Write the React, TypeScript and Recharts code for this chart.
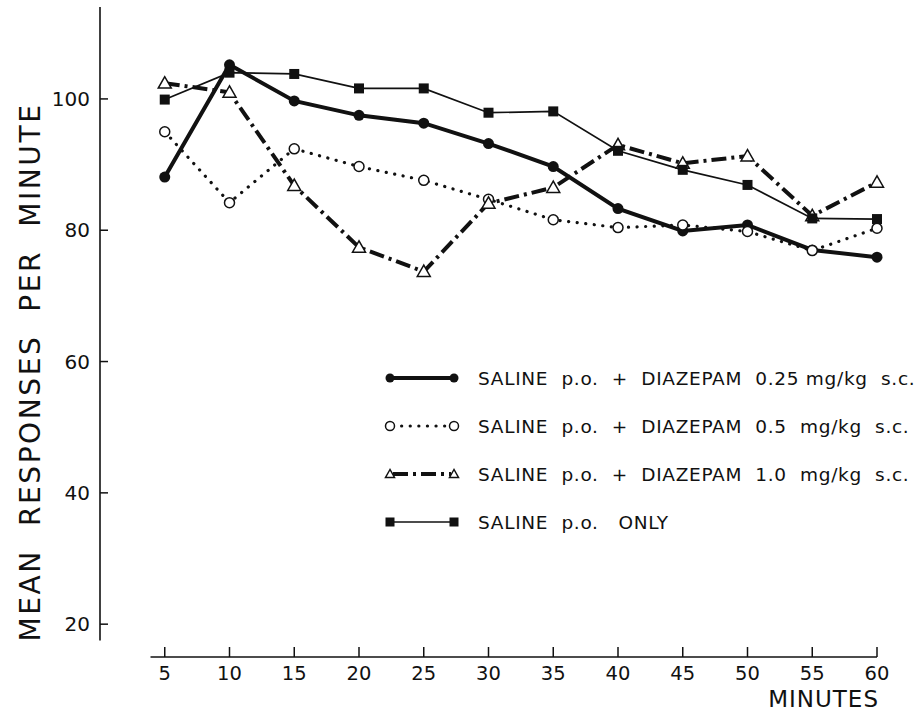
import React from 'react';
import { LineChart, Line, XAxis, YAxis, Legend, ReferenceLine } from 'recharts';

// minutes after injection
const minutes = [5, 10, 15, 20, 25, 30, 35, 40, 45, 50, 55, 60];

// mean responses per minute
const diazepam025 = [88.1, 105.2, 99.7, 97.5, 96.3, 93.2, 89.7, 83.3, 79.9, 80.8, 77.0, 75.9];
const diazepam05 = [95.0, 84.2, 92.4, 89.7, 87.6, 84.7, 81.6, 80.4, 80.8, 79.8, 76.9, 80.3];
const diazepam10 = [102.4, 101.0, 86.8, 77.4, 73.7, 84.1, 86.5, 93.0, 90.2, 91.3, 82.2, 87.3];
const salineOnly = [99.9, 104.0, 103.8, 101.6, 101.6, 97.9, 98.1, 92.1, 89.2, 86.9, 81.8, 81.7];

const yTicks = [20, 40, 60, 80, 100];

const legendLabels = [
  'SALINE  p.o.  +  DIAZEPAM  0.25 mg/kg  s.c.',
  'SALINE  p.o.  +  DIAZEPAM  0.5  mg/kg  s.c.',
  'SALINE  p.o.  +  DIAZEPAM  1.0  mg/kg  s.c.',
  'SALINE  p.o.   ONLY',
];

const data = minutes.map((m, i) => ({
  minute: m,
  d025: diazepam025[i],
  d05: diazepam05[i],
  d10: diazepam10[i],
  saline: salineOnly[i],
}));

const INK = '#111';
const FONT = '"DejaVu Sans", sans-serif';

// marker shapes
const FilledCircle = ({ cx, cy, r = 5.5 }: any) => <circle cx={cx} cy={cy} r={r} fill={INK} stroke="none" />;
const OpenCircle = ({ cx, cy, r = 5 }: any) => <circle cx={cx} cy={cy} r={r} fill="#fff" stroke={INK} strokeWidth={1.5} />;
const OpenTriangle = ({ cx, cy, s = 6.5 }: any) => (
  <polygon points={`${cx},${cy - s} ${cx - s},${cy + s * 0.75} ${cx + s},${cy + s * 0.75}`} fill="#fff" stroke={INK} strokeWidth={1.5} />
);
const FilledSquare = ({ cx, cy, s = 5 }: any) => <rect x={cx - s} y={cy - s} width={s * 2} height={s * 2} fill={INK} />;

const series = [
  { key: 'd025', width: 4, dash: undefined, cap: 'butt', Marker: FilledCircle },
  { key: 'd05', width: 3.2, dash: '0.1 8.5', cap: 'round', Marker: OpenCircle },
  { key: 'd10', width: 4, dash: '15 5 3 5', cap: 'butt', Marker: OpenTriangle },
  { key: 'saline', width: 1.7, dash: undefined, cap: 'butt', Marker: FilledSquare },
];

const XTick = ({ x, y, payload }: any) => (
  <g>
    <line x1={x} x2={x} y1={y} y2={y - 10} stroke={INK} strokeWidth={1.5} />
    <text x={x} y={y + 23} textAnchor="middle" fontSize={19.5} fontFamily={FONT} fill={INK}>
      {payload.value}
    </text>
  </g>
);

const YTick = ({ x, y, payload }: any) => (
  <g>
    <line x1={x} x2={x + 8} y1={y} y2={y} stroke={INK} strokeWidth={1.5} />
    <text x={x - 10} y={y} dy="0.36em" textAnchor="end" fontSize={20} fontFamily={FONT} fill={INK}>
      {payload.value}
    </text>
  </g>
);

const YLabel = () => (
  <text x={30} y={372} transform="rotate(-90 30 372)" textAnchor="middle" dominantBaseline="central"
    fontSize={28} fontFamily={FONT} fill={INK} letterSpacing={2.6} style={{ whiteSpace: 'pre' }}>
    MEAN  RESPONSES  PER  MINUTE
  </text>
);

const XLabel = () => (
  <text x={879} y={707} textAnchor="end" fontSize={23} fontFamily={FONT} fill={INK} letterSpacing={1}>
    MINUTES
  </text>
);

const LegendContent = () => (
  <div style={{ fontFamily: FONT, fontSize: 18.5, color: INK }}>
    {series.map((s, i) => {
      const M = s.Marker;
      return (
        <div key={s.key} style={{ display: 'flex', alignItems: 'center', height: 48 }}>
          <svg width={74} height={16} style={{ overflow: 'visible' }}>
            <line x1={8} x2={66} y1={8} y2={8} stroke={INK} strokeWidth={s.width}
              strokeDasharray={s.dash} strokeLinecap={s.cap as any} />
            <M cx={5} cy={8} r={4.5} s={4.5} />
            <M cx={69} cy={8} r={4.5} s={4.5} />
          </svg>
          <span style={{ marginLeft: 19, whiteSpace: 'pre', letterSpacing: 0.7 }}>{legendLabels[i]}</span>
        </div>
      );
    })}
  </div>
);

export default function App() {
  return (
    <div style={{ position: 'absolute', left: 0, top: 0, width: 919, height: 717, background: '#fff' }}>
      <LineChart width={919} height={717} data={data} margin={{ top: 7, right: 42, bottom: 0, left: 0 }}>
        <XAxis dataKey="minute" type="number" domain={[0, 60]} ticks={minutes} interval={0}
          axisLine={false} tickLine={false} tickSize={0} tickMargin={0} tick={<XTick />} height={60}
          label={<XLabel />} />
        <YAxis type="number" domain={[15, 114]} ticks={yTicks} interval={0} width={100}
          axisLine={false} tickLine={false} tickSize={0} tickMargin={0} tick={<YTick />}
          label={<YLabel />} />
        <ReferenceLine segment={[{ x: 3.9, y: 15 }, { x: 60, y: 15 }]} stroke={INK} strokeWidth={1.6} ifOverflow="visible" />
        <ReferenceLine segment={[{ x: 0, y: 17.5 }, { x: 0, y: 114 }]} stroke={INK} strokeWidth={1.6} ifOverflow="visible" />
        {series.map((s) => {
          const M = s.Marker;
          return (
            <Line key={s.key} dataKey={s.key} type="linear" stroke={INK} strokeWidth={s.width}
              strokeDasharray={s.dash} strokeLinecap={s.cap as any}
              dot={(p: any) => <M key={`${s.key}-${p.index}`} cx={p.cx} cy={p.cy} />}
              activeDot={false} isAnimationActive={false} />
          );
        })}
        <Legend layout="vertical" align="center" verticalAlign="middle" content={<LegendContent />}
          wrapperStyle={{ left: 385, top: 354, width: 534 }} />
      </LineChart>
    </div>
  );
}
